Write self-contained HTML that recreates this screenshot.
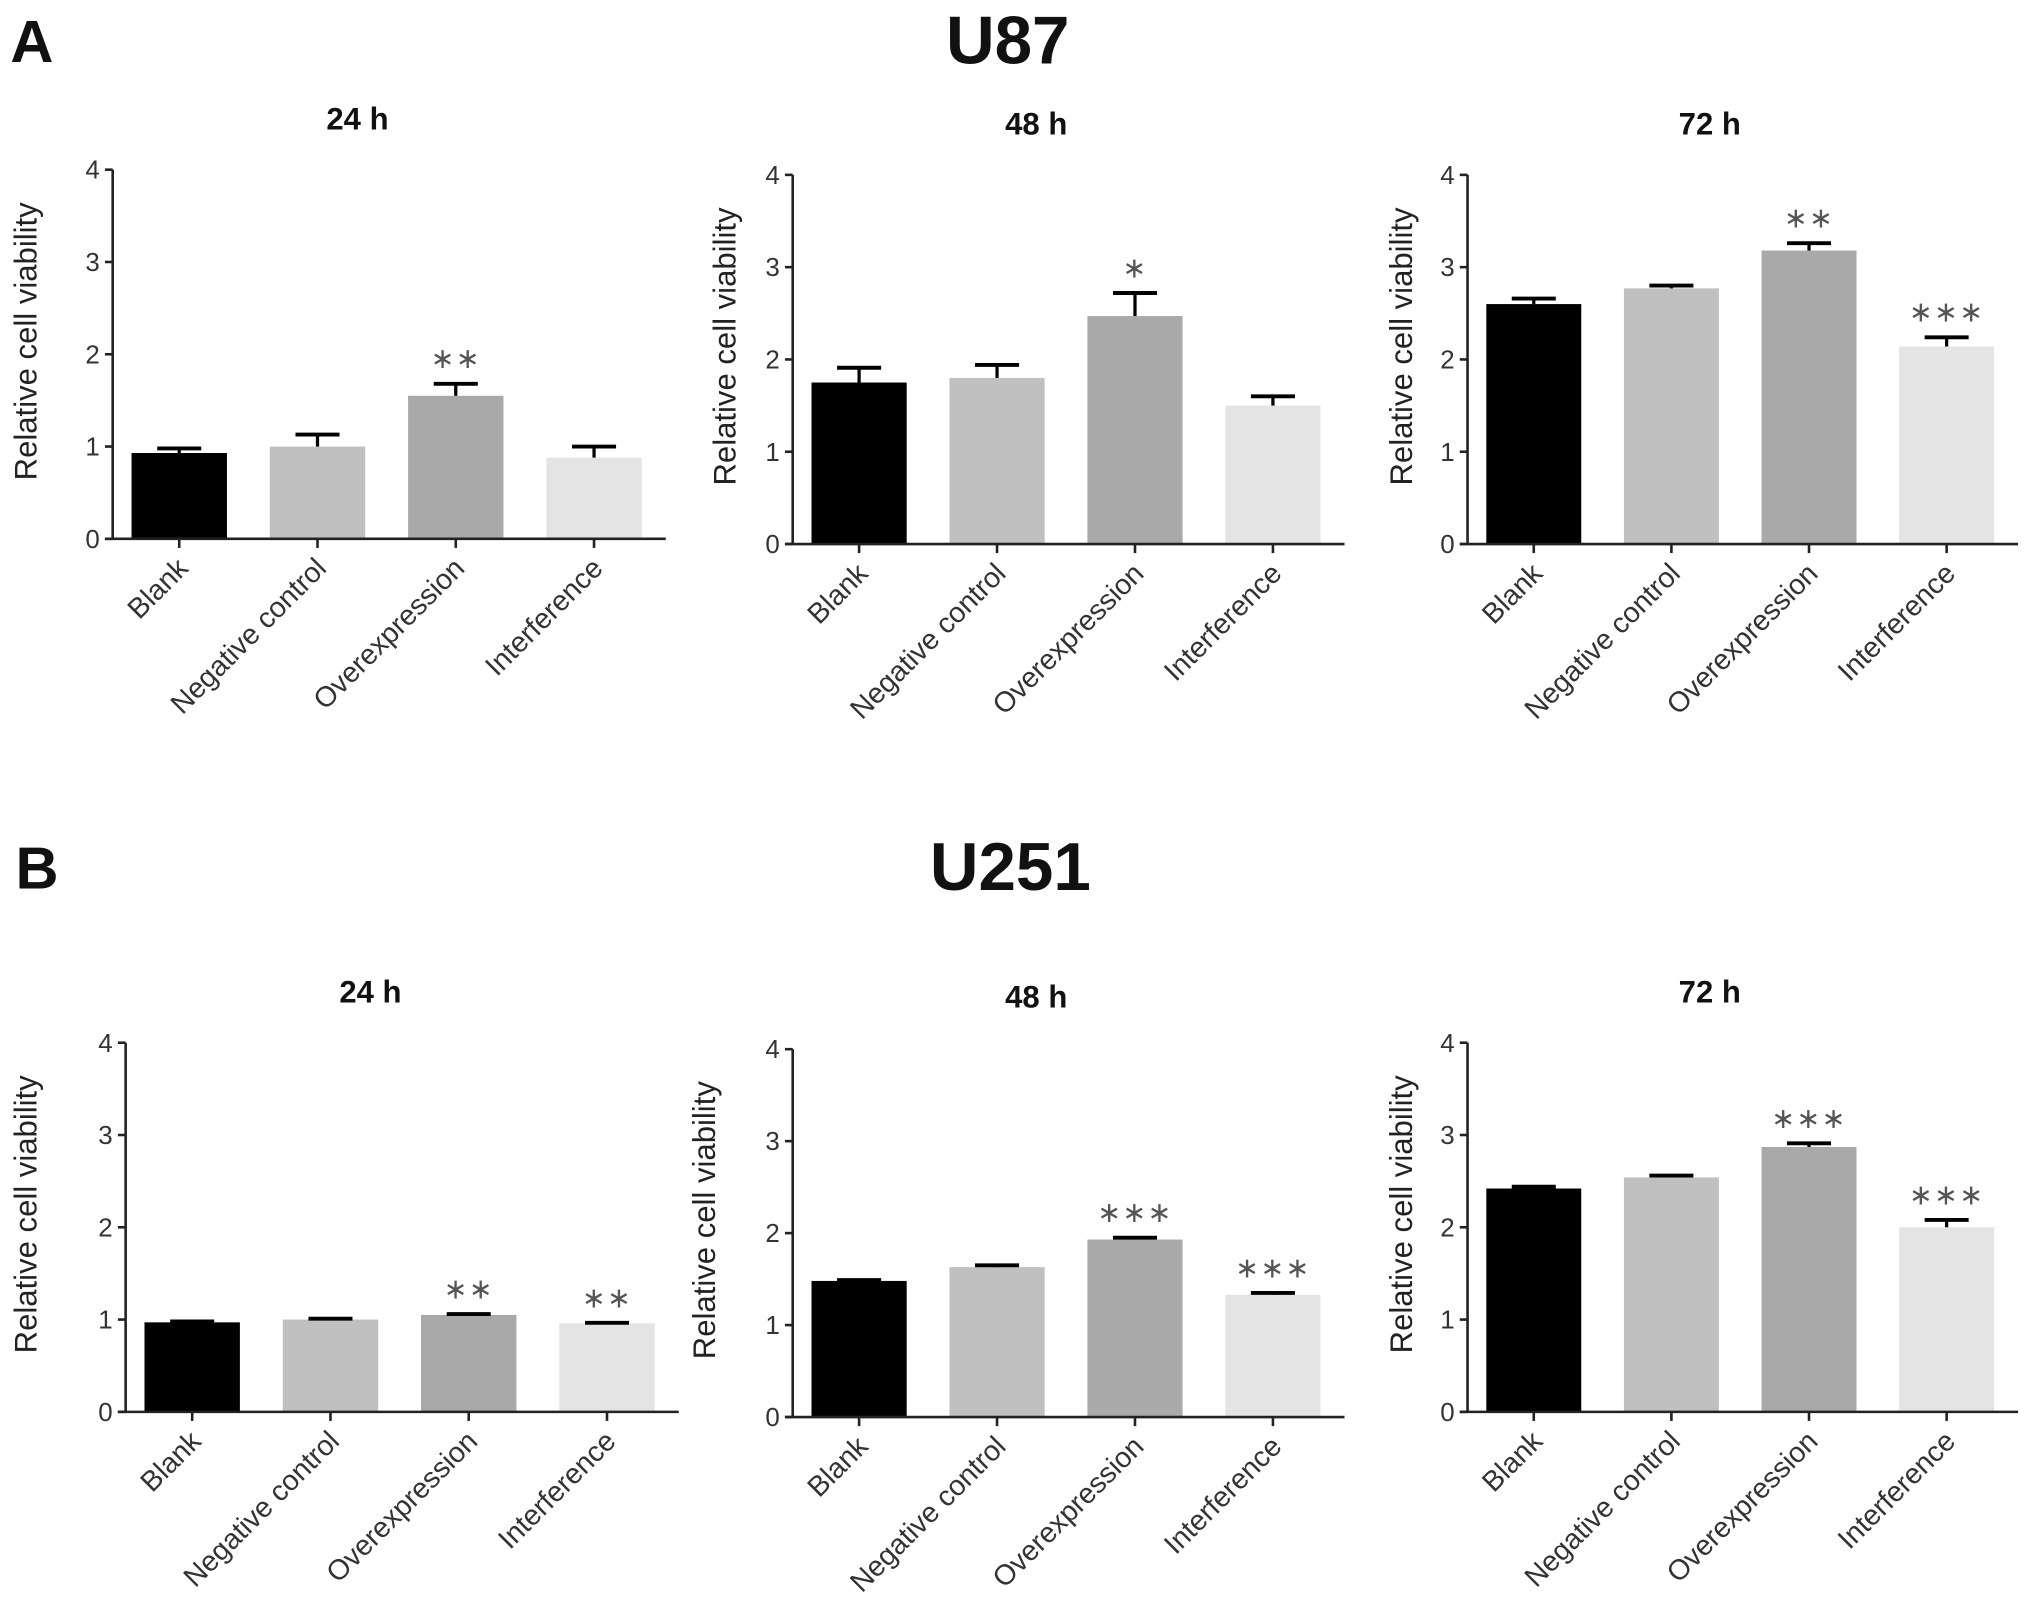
<!DOCTYPE html>
<html><head><meta charset="utf-8"><style>
html,body{margin:0;padding:0;background:#fff}
svg{display:block}
text{font-family:"Liberation Sans",Arial,sans-serif}
</style></head><body>
<svg id="fig" width="2031" height="1616" viewBox="0 0 1568 1247.6" xmlns="http://www.w3.org/2000/svg">
<text x="8" y="48" font-size="46" font-weight="bold" fill="#111">A</text>
<text x="778" y="49" font-size="52" font-weight="bold" fill="#111" text-anchor="middle">U87</text>
<text x="12" y="686" font-size="46" font-weight="bold" fill="#111">B</text>
<text x="780" y="687" font-size="52" font-weight="bold" fill="#111" text-anchor="middle">U251</text>
</svg>
<script>
const categories = ["Blank","Negative control","Overexpression","Interference"];
const yTicks = [0,1,2,3,4];
const panelTitles = ["24 h","48 h","72 h","24 h","48 h","72 h"];
const means_u87_24 = [0.93,1.00,1.55,0.88];
const errs_u87_24 = [0.05,0.13,0.13,0.12];
const stars_u87_24 = ["","","**",""];
const means_u87_48 = [1.75,1.80,2.47,1.50];
const errs_u87_48 = [0.16,0.14,0.25,0.10];
const stars_u87_48 = ["","","*",""];
const means_u87_72 = [2.60,2.77,3.18,2.14];
const errs_u87_72 = [0.06,0.03,0.08,0.10];
const stars_u87_72 = ["","","**","***"];
const means_u251_24 = [0.97,1.00,1.05,0.96];
const errs_u251_24 = [0.01,0.01,0.01,0.005];
const stars_u251_24 = ["","","**","**"];
const means_u251_48 = [1.48,1.63,1.93,1.33];
const errs_u251_48 = [0.01,0.02,0.02,0.02];
const stars_u251_48 = ["","","***","***"];
const means_u251_72 = [2.42,2.54,2.87,2.00];
const errs_u251_72 = [0.02,0.02,0.04,0.08];
const stars_u251_72 = ["","","***","***"];

const colors = ["#000000","#c0c0c0","#a9a9a9","#e4e4e4"];
const NS = "http://www.w3.org/2000/svg";
const svg = document.getElementById("fig");
function mk(tag, attrs, parent){ const e=document.createElementNS(NS,tag); for(const k in attrs) e.setAttribute(k,attrs[k]); (parent||svg).appendChild(e); return e; }

const layouts = [
 {x0:87,x1:514,top:131,zero:416,yt:28,tx:276,ty:100},
 {x0:612,x1:1038,top:135,zero:420,yt:568,tx:800,ty:104},
 {x0:1133,x1:1558,top:135,zero:420,yt:1090,tx:1320,ty:104},
 {x0:97,x1:524,top:805,zero:1090,yt:28,tx:286,ty:774},
 {x0:612,x1:1038,top:810,zero:1094,yt:552,tx:800,ty:778},
 {x0:1133,x1:1558,top:805,zero:1090,yt:1090,tx:1320,ty:774}
];
const datasets = [
 [means_u87_24,errs_u87_24,stars_u87_24],[means_u87_48,errs_u87_48,stars_u87_48],[means_u87_72,errs_u87_72,stars_u87_72],
 [means_u251_24,errs_u251_24,stars_u251_24],[means_u251_48,errs_u251_48,stars_u251_48],[means_u251_72,errs_u251_72,stars_u251_72]
];

layouts.forEach((L,pi)=>{
  const g = mk("g",{});
  
  
  const ymax = yTicks[yTicks.length-1];
  const yScale = v => L.zero - (v/ymax)*(L.zero-L.top);
  const n = categories.length;
  const slot = (L.x1 - L.x0)/n;
  const bw = slot*0.69;
  const xCenter = i => L.x0 + slot*(i+0.5) - 2;
  const [means, errs, stars] = datasets[pi];

  const t = mk("text",{x:L.tx,y:L.ty,"font-size":24,"font-weight":"bold","text-anchor":"middle",fill:"#111"},g);
  t.textContent = panelTitles[pi];
  
  

  const yt = mk("text",{x:0,y:0,"font-size":24,"text-anchor":"middle",fill:"#222",transform:`translate(${L.yt},${(L.top+L.zero)/2-10}) rotate(-90)`},g);
  yt.textContent = "Relative cell viability";
  
  

  means.forEach((m,i)=>{
    const cx = xCenter(i);
    const r = mk("rect",{x:cx-bw/2,y:yScale(m),width:bw,height:L.zero-yScale(m),fill:colors[i]},g);
    
    
    const ey = yScale(m+errs[i]);
    const el = mk("line",{x1:cx,x2:cx,y1:yScale(m),y2:ey,stroke:"#000","stroke-width":2.5},g);
    
    
    const cap = mk("line",{x1:cx-17,x2:cx+17,y1:ey,y2:ey,stroke:"#000","stroke-width":3},g);
    
    
    if(stars[i]){
      const s = mk("text",{x:cx,y:ey-12,"font-size":22,"text-anchor":"middle",fill:"#555","letter-spacing":"1"},g);
      s.textContent = stars[i].replace(/\*/g,"\u2217");
      
      
    }
    const xt = mk("line",{x1:cx,x2:cx,y1:L.zero,y2:L.zero+7,stroke:"#222","stroke-width":2},g);
    
    
    const lb = mk("text",{x:0,y:0,"font-size":22,"text-anchor":"end",fill:"#333",transform:`translate(${cx+8},${L.zero+24}) rotate(-45)`},g);
    lb.textContent = categories[i];
    
    
  });

  const ya = mk("line",{x1:L.x0,x2:L.x0,y1:L.top,y2:L.zero,stroke:"#222","stroke-width":2},g);
  
  
  const xa = mk("line",{x1:L.x0-6,x2:L.x1,y1:L.zero,y2:L.zero,stroke:"#222","stroke-width":2},g);
  
  
  yTicks.forEach(v=>{
    const y = yScale(v);
    const tk = mk("line",{x1:L.x0-6,x2:L.x0,y1:y,y2:y,stroke:"#222","stroke-width":2},g);
    
    
    const tl = mk("text",{x:L.x0-10,y:y+7,"font-size":20,"text-anchor":"end",fill:"#333"},g);
    tl.textContent = v;
    
    
  });
});
</script>
</body></html>
